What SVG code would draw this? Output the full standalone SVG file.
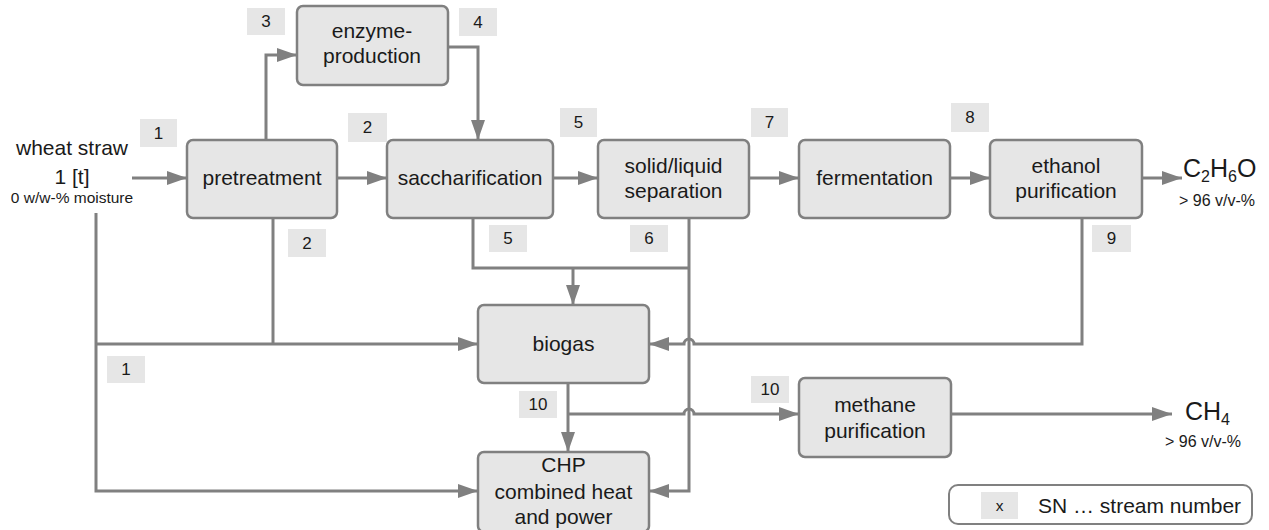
<svg xmlns="http://www.w3.org/2000/svg" width="1269" height="530" viewBox="0 0 1269 530">
<style>
.node{fill:#e6e6e6;stroke:#808080;stroke-width:2.5}
.sn{fill:#e6e6e6;stroke:none}
.c{fill:none;stroke:#808080;stroke-width:3}
text{font-family:"Liberation Sans",Arial,sans-serif;fill:#1a1a1a}
.t{font-size:21px;text-anchor:middle}
.n{font-size:17px;text-anchor:middle}
.s{font-size:15.5px}
.p{font-size:16px}
</style>
<defs>
<marker id="ah" markerUnits="userSpaceOnUse" markerWidth="20" markerHeight="14" refX="20" refY="7" orient="auto">
<path d="M0,0 L20,7 L0,14 z" fill="#808080"/>
</marker>
</defs>
<rect width="1269" height="530" fill="#ffffff"/>
<g id="connectors">
<path class="c" d="M132,178 H187" marker-end="url(#ah)"/>
<path class="c" d="M337,178 H387" marker-end="url(#ah)"/>
<path class="c" d="M266,140 V55 H297" marker-end="url(#ah)"/>
<path class="c" d="M448,47 H478 V140" marker-end="url(#ah)"/>
<path class="c" d="M553,178 H598" marker-end="url(#ah)"/>
<path class="c" d="M749,178 H799" marker-end="url(#ah)"/>
<path class="c" d="M950,178 H990" marker-end="url(#ah)"/>
<path class="c" d="M1142,178 H1182" marker-end="url(#ah)"/>
<path class="c" d="M473,218 V268 H689"/>
<path class="c" d="M573,268 V305" marker-end="url(#ah)"/>
<path class="c" d="M689,218 V491 H649" marker-end="url(#ah)"/>
<path class="c" d="M1082,218 V344 H694 A5,5 0 0 0 684,344 H649" marker-end="url(#ah)"/>
<path class="c" d="M96,213 V491 H478" marker-end="url(#ah)"/>
<path class="c" d="M96,344 H478" marker-end="url(#ah)"/>
<path class="c" d="M273,218 V344"/>
<path class="c" d="M568,383 V452" marker-end="url(#ah)"/>
<path class="c" d="M568,414 H684 A5,5 0 0 1 694,414 H799" marker-end="url(#ah)"/>
<path class="c" d="M951,414 H1172" marker-end="url(#ah)"/>
</g>
<g id="wheat-straw">
<text class="t" x="72" y="155">wheat straw</text>
<text class="t" x="72" y="184">1 [t]</text>
<text class="s" x="72" y="203" text-anchor="middle">0 w/w-% moisture</text>
</g>
<g id="pretreatment">
<rect class="node" x="187" y="140" width="150" height="78" rx="6"/>
<text class="t" x="262" y="185">pretreatment</text>
</g>
<g id="enzyme-production">
<rect class="node" x="297" y="6" width="151" height="79" rx="6"/>
<text class="t" x="372" y="38">enzyme-</text>
<text class="t" x="372" y="63">production</text>
</g>
<g id="saccharification">
<rect class="node" x="387" y="140" width="166" height="78" rx="6"/>
<text class="t" x="470" y="185">saccharification</text>
</g>
<g id="solid-liquid-separation">
<rect class="node" x="598" y="140" width="151" height="78" rx="6"/>
<text class="t" x="673.5" y="173">solid/liquid</text>
<text class="t" x="673.5" y="198">separation</text>
</g>
<g id="fermentation">
<rect class="node" x="799" y="140" width="151" height="78" rx="6"/>
<text class="t" x="874.5" y="185">fermentation</text>
</g>
<g id="ethanol-purification">
<rect class="node" x="990" y="140" width="152" height="78" rx="6"/>
<text class="t" x="1066" y="173">ethanol</text>
<text class="t" x="1066" y="198">purification</text>
</g>
<g id="ethanol-product">
<text x="1183" y="177" font-size="25">C<tspan font-size="16" dy="5">2</tspan><tspan dy="-5">H</tspan><tspan font-size="16" dy="5">6</tspan><tspan dy="-5">O</tspan></text>
<text class="p" x="1179" y="206">&gt; 96 v/v-%</text>
</g>
<g id="biogas">
<rect class="node" x="478" y="305" width="171" height="78" rx="6"/>
<text class="t" x="563.5" y="351">biogas</text>
</g>
<g id="chp">
<rect class="node" x="478" y="452" width="171" height="80" rx="6"/>
<text class="t" x="563.5" y="472">CHP</text>
<text class="t" x="563.5" y="499">combined heat</text>
<text class="t" x="563.5" y="524">and power</text>
</g>
<g id="methane-purification">
<rect class="node" x="799" y="378" width="152" height="79" rx="6"/>
<text class="t" x="875" y="412">methane</text>
<text class="t" x="875" y="438">purification</text>
</g>
<g id="methane-product">
<text x="1185" y="420" font-size="25">CH<tspan font-size="16" dy="5">4</tspan></text>
<text class="p" x="1165" y="447">&gt; 96 v/v-%</text>
</g>
<g id="stream-numbers">
<rect class="sn" x="140" y="119" width="37" height="28"/><text class="n" x="158.5" y="139">1</text>
<rect class="sn" x="247" y="8" width="38" height="27"/><text class="n" x="266" y="27">3</text>
<rect class="sn" x="459" y="8" width="38" height="28"/><text class="n" x="478" y="28">4</text>
<rect class="sn" x="348" y="113" width="39" height="29"/><text class="n" x="367.5" y="133">2</text>
<rect class="sn" x="288" y="229" width="38" height="28"/><text class="n" x="307" y="249">2</text>
<rect class="sn" x="560" y="108" width="37" height="29"/><text class="n" x="578.5" y="128">5</text>
<rect class="sn" x="751" y="108" width="37" height="29"/><text class="n" x="769.5" y="128">7</text>
<rect class="sn" x="489" y="225" width="38" height="27"/><text class="n" x="508" y="244">5</text>
<rect class="sn" x="630" y="225" width="38" height="27"/><text class="n" x="649" y="244">6</text>
<rect class="sn" x="951" y="103" width="38" height="29"/><text class="n" x="970" y="123">8</text>
<rect class="sn" x="1092" y="225" width="39" height="27"/><text class="n" x="1111.5" y="244">9</text>
<rect class="sn" x="107" y="356" width="38" height="27"/><text class="n" x="126" y="375">1</text>
<rect class="sn" x="519" y="391" width="38" height="27"/><text class="n" x="538" y="410">10</text>
<rect class="sn" x="751" y="376" width="38" height="27"/><text class="n" x="770" y="395">10</text>
</g>
<g id="legend">
<rect x="949" y="485" width="303" height="39" rx="9" fill="#ffffff" stroke="#808080" stroke-width="2"/>
<rect class="sn" x="981" y="492" width="37" height="27"/>
<text class="s" x="999.5" y="511" text-anchor="middle">x</text>
<text x="1038" y="513" font-size="21">SN … stream number</text>
</g>
</svg>
